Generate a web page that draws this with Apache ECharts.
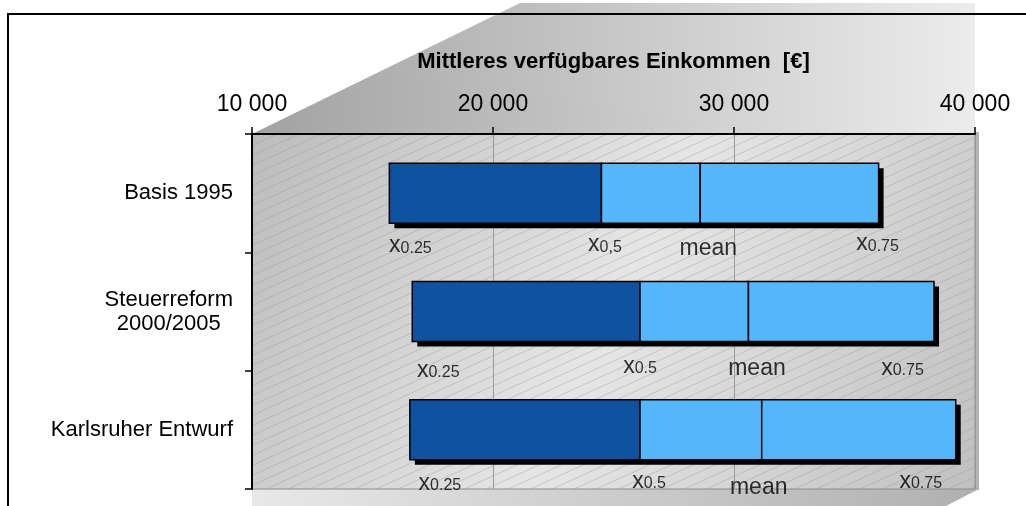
<!DOCTYPE html>
<html><head><meta charset="utf-8">
<script src="https://cdn.jsdelivr.net/npm/echarts@6/dist/echarts.min.js"></script>
<style>html,body{margin:0;padding:0;background:#fff;}#c{width:1026px;height:506px;}</style>
</head><body><div id="c"></div>
<script>
// ---------- data ----------
const categories = ['Basis 1995', 'Steuerreform\n2000/2005', 'Karlsruher Entwurf'];
const q25   = [15700, 16650, 16550];
const q50   = [24500, 26100, 26100];
const means = [28600, 30600, 31150];
const q75   = [36000, 38300, 39200];
const labelSubs = [['0.25', '0,5', '0.75'], ['0.25', '0.5', '0.75'], ['0.25', '0.5', '0.75']];
const axisMin = 10000, axisMax = 40000, axisStep = 10000;
const axisTitle = 'Mittleres verfügbares Einkommen  [€]';

// ---------- layout (pixels) ----------
const W = 1026, H = 506;
const L = 252, T = 134, R = 975, B = 489;
const BAR_RATIO = 0.507;   // bar thickness / category band
const SHADOW = 5;          // 3D depth offset of the bars
// label nudges [row][x0.25, x0.5, mean, x0.75]
const LABEL_DX = [[21, 3.5, 8, -1], [26, 0, 8.5, -31.5], [30, 9, -3, -35]];
const LABEL_DY = [[52, 51, 55.5, 50], [58.5, 54.5, 57, 56.5], [53, 51, 57.5, 51]];

const FONT = '"Liberation Sans", Arial, sans-serif';
const DARK = '#0F52A0', LIGHT = '#55B7FB';

const fmt = v => String(v).replace(/\B(?=(\d{3})+(?!\d))/g, ' ');

// hatch pattern
const pc = document.createElement('canvas');
pc.width = 22; pc.height = 10;
const g = pc.getContext('2d');
g.strokeStyle = 'rgba(150,150,150,0.55)';
g.lineWidth = 0.7;
[0, 10, 20].forEach(o => { g.beginPath(); g.moveTo(-22, o + 10); g.lineTo(44, o - 20); g.stroke(); });

// bar rows: [categoryIndex, q25, q50, mean, q75]
const barRows = categories.map((c, i) => [i, q25[i], q50[i], means[i], q75[i]]);

// label points
const labelData = [];
categories.forEach((c, i) => {
  const vals = [q25[i], q50[i], means[i], q75[i]];
  const texts = [
    '{x|x}{s|' + labelSubs[i][0] + '}',
    '{x|x}{s|' + labelSubs[i][1] + '}',
    '{m|mean}',
    '{x|x}{s|' + labelSubs[i][2] + '}'
  ];
  vals.forEach((v, k) => {
    labelData.push({
      value: [v, i],
      label: { formatter: texts[k], offset: [LABEL_DX[i][k], LABEL_DY[i][k]] }
    });
  });
});

function renderBar(params, api) {
  const i = api.value(0);
  const p = [1, 2, 3, 4].map(d => api.coord([api.value(d), i]));
  const h = api.size([0, 1])[1] * BAR_RATIO;
  const y = p[0][1] - h / 2;
  const seg = (a, b, fill) => ({
    type: 'rect',
    shape: { x: p[a][0], y: y, width: p[b][0] - p[a][0], height: h },
    style: { fill: fill, stroke: '#000', lineWidth: 1.5 }
  });
  return {
    type: 'group',
    children: [
      { type: 'rect', shape: { x: p[0][0] + SHADOW, y: y + SHADOW, width: p[3][0] - p[0][0], height: h }, style: { fill: '#000' } },
      seg(0, 1, DARK),
      seg(1, 2, LIGHT),
      seg(2, 3, LIGHT)
    ]
  };
}

const chart = echarts.init(document.getElementById('c'), null, { renderer: 'canvas' });
chart.setOption({
  animation: false,
  backgroundColor: '#fff',
  grid: { left: L, top: T, right: W - R, bottom: H - B, show: true, borderColor: '#8c8c8c', borderWidth: 1, backgroundColor: 'transparent' },
  graphic: [
    { type: 'polygon', z: -10, shape: { points: [[L, T], [520, 3], [R, 3], [R, T]] },
      style: { fill: new echarts.graphic.LinearGradient(0, 0.6, 1, 0.4, [{ offset: 0, color: '#a2a2a2' }, { offset: 1, color: '#ececec' }]) } },
    { type: 'rect', z: -10, shape: { x: R, y: T - 2, width: 4, height: B - T + 3 }, style: { fill: '#b4b4b4' } },
    { type: 'polygon', z: -10, shape: { points: [[L, B], [R + 4, B], [R + 4 - 35, H + 1], [L, H + 1]] },
      style: { fill: new echarts.graphic.LinearGradient(0, 0, 1, 0, [{ offset: 0, color: '#e8e8e8' }, { offset: 1, color: '#b0b0b0' }]) } },
    { type: 'rect', z: -9, shape: { x: L, y: T, width: R - L, height: B - T },
      style: { fill: new echarts.graphic.LinearGradient(0, 0, 1, 1, [{ offset: 0, color: '#bcbcbc' }, { offset: 0.5, color: '#e6e6e6' }, { offset: 1, color: '#c0c0c0' }]) } },
    { type: 'rect', z: -8, shape: { x: L, y: T, width: R - L, height: B - T },
      style: { fill: { image: pc, repeat: 'repeat' } } },
    { type: 'polyline', z: -5, shape: { points: [[8, H + 2], [8, 14], [W + 2, 14]] },
      style: { stroke: '#000', lineWidth: 2, fill: null } }
  ],
  xAxis: {
    type: 'value', position: 'top', min: axisMin, max: axisMax, interval: axisStep,
    name: axisTitle, nameLocation: 'middle', nameGap: 61,
    nameTextStyle: { fontFamily: FONT, fontSize: 22, fontWeight: 'bold', color: '#000' },
    axisLine: { show: true, lineStyle: { color: '#000', width: 2 } },
    axisTick: { show: true, length: 7, lineStyle: { color: '#000', width: 1.5 } },
    axisLabel: { formatter: fmt, fontFamily: FONT, fontSize: 23, color: '#000', margin: 18 },
    splitLine: { show: true, lineStyle: { color: '#9a9a9a', width: 1 } }
  },
  yAxis: {
    type: 'category', data: categories, inverse: true,
    axisLine: { show: true, lineStyle: { color: '#000', width: 2 } },
    axisTick: { show: true, length: 7, lineStyle: { color: '#000', width: 1.5 } },
    axisLabel: {
      margin: 19, color: '#000', fontFamily: FONT, fontSize: 22,
      formatter: v => v.split('\n').map(s => '{c|' + s + '}').join('\n'),
      rich: { c: { align: 'center', fontFamily: FONT, fontSize: 22, lineHeight: 24, color: '#000' } }
    },
    splitLine: { show: false }
  },
  series: [
    { type: 'custom', silent: true, renderItem: renderBar, data: barRows,
      encode: { x: [1, 2, 3, 4], y: 0 }, z: 3 },
    { type: 'scatter', silent: true, symbolSize: 1, itemStyle: { color: 'transparent' }, z: 5,
      data: labelData,
      label: {
        show: true, position: 'inside', align: 'center', verticalAlign: 'middle', color: '#000',
        fontFamily: FONT,
        rich: {
          x: { fontFamily: FONT, fontSize: 23, lineHeight: 22, verticalAlign: 'top', color: '#000' },
          s: { fontFamily: FONT, fontSize: 16, lineHeight: 10, verticalAlign: 'bottom', color: '#000' },
          m: { fontFamily: FONT, fontSize: 23, lineHeight: 22, color: '#000' }
        }
      }
    }
  ]
});
</script></body></html>
